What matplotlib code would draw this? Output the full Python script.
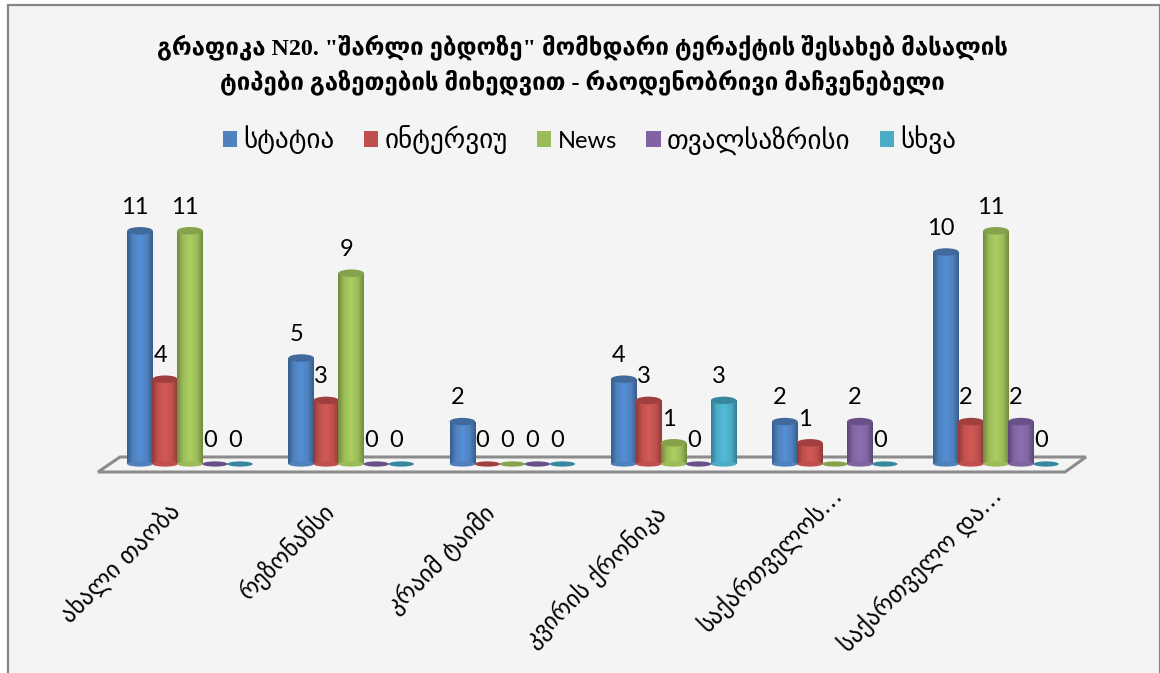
import numpy as np
import matplotlib
matplotlib.use('Agg')
import matplotlib.pyplot as plt
from matplotlib.colors import LinearSegmentedColormap
from matplotlib.patches import Ellipse, Polygon, Rectangle

# Data
categories = ['ახალი თაობა', 'რეზონანსი', 'კრაიმ ტაიმი', 'კვირის ქრონიკა',
              'საქართველოს…', 'საქართველო და…']
series_names = ['სტატია', 'ინტერვიუ', 'News', 'თვალსაზრისი', 'სხვა']
statia = [11, 5, 2, 4, 2, 10]
interviu = [4, 3, 0, 3, 1, 2]
news = [11, 9, 0, 1, 0, 11]
tvalsazrisi = [0, 0, 0, 0, 2, 2]
skhva = [0, 0, 0, 3, 0, 0]
all_series = [statia, interviu, news, tvalsazrisi, skhva]

# the original chart shows no label for News in the 5th group
hidden_labels = [(2, 4)]

title_lines = 'გრაფიკა N20. "შარლი ებდოზე" მომხდარი ტერაქტის შესახებ მასალის\nტიპები გაზეთების მიხედვით - რაოდენობრივი მაჩვენებელი'

# Colours: base, dark edge, bright centre, top cap
colors = ['#4f81bd', '#c0504d', '#9bbb59', '#8064a2', '#4bacc6']
darks = ['#375d8c', '#8c3b39', '#71893f', '#5b4776', '#337f94']
lights = ['#5490d6', '#d25a57', '#abcf60', '#8c6fb2', '#52bcd9']
caps = ['#41699c', '#a03f3d', '#86a24a', '#6a5088', '#37889e']

W, H = 1160, 673
x0_px, y0_px = 190, 464    # where group 0 / value 0 land
group_px, unit_px = 161.2, 21.2
bar_w = 25.5 / group_px
cap_h = 7.5 / unit_px

fig = plt.figure(figsize=(W / 100, H / 100), dpi=100, facecolor='white')
ax = fig.add_axes([0, 0, 1, 1])
ax.set_facecolor('white')

# px -> data helpers, the axes fills the whole figure
def px_x(p):
    return (p - x0_px) / group_px

def px_y(p):
    return (y0_px - p) / unit_px

# chart area with the grey frame on top / sides
ax.add_patch(Rectangle((px_x(8), px_y(H + 5)), (W - 8) / group_px, (H + 5 - 4.5) / unit_px,
                       fc='#f4f4f4', ec='#868686', lw=1.6, zorder=0))

# floor of the 3D chart
floor = [(98, 472), (120, 457), (1086, 457), (1065, 472)]
ax.add_patch(Polygon([(px_x(a), px_y(b)) for a, b in floor], closed=True,
                     fc='#f4f4f4', ec='#8c8c8c', lw=2.2, zorder=1))

x = np.arange(len(categories))
grad = np.linspace(0, 1, 64).reshape(1, -1)

for k, vals in enumerate(all_series):
    pos = x + (k - 2) * 25 / group_px
    cmap = LinearSegmentedColormap.from_list(
        'c%d' % k, [(0, darks[k]), (0.22, colors[k]), (0.5, lights[k]),
                    (0.78, colors[k]), (1, darks[k])])
    bars = ax.bar(pos, vals, width=bar_w, color=colors[k], linewidth=0, zorder=2 + k)
    for i, (b, v) in enumerate(zip(bars, vals)):
        cx = b.get_x() + b.get_width() / 2
        if v > 0:
            im = ax.imshow(grad, cmap=cmap, aspect='auto', zorder=2 + k, interpolation='bilinear',
                           extent=(b.get_x(), b.get_x() + b.get_width(), 0, v))
            im.set_clip_path(b)
            ax.add_patch(Ellipse((cx, 0), bar_w, cap_h * 0.7, fc=colors[k], ec='none', zorder=2 + k))
            ax.add_patch(Ellipse((cx, v), bar_w, cap_h, fc=caps[k], ec='none', zorder=2 + k))
        else:
            ax.add_patch(Ellipse((cx, 0), bar_w, cap_h * 0.7, fc=caps[k], ec='none', zorder=2 + k))
        if (k, i) in hidden_labels:
            continue
        ax.annotate(str(v), (cx, v), xytext=(-3.5, 17), textcoords='offset points',
                    ha='center', va='center', fontsize=17, family='Lato',
                    color='black', zorder=20)

# category labels, rotated 45 degrees
label_end_x = [176, 331, 491, 662, 839, 999]
label_end_y = [508, 507, 509, 510, 492, 492]
for name, ex, ey in zip(categories, label_end_x, label_end_y):
    ax.text(px_x(ex), px_y(ey), name, rotation=45, rotation_mode='anchor',
            ha='right', va='center', fontsize=17.3, family='DejaVu Sans',
            color='black', zorder=20)

ax.text(px_x(582), px_y(64.5), title_lines, ha='center', va='center', fontsize=17.3,
        fontweight='bold', family=['Liberation Serif', 'DejaVu Sans'],
        linespacing=1.46, color='black', zorder=20)

handles = [Rectangle((0, 0), 1, 1, fc=c, ec='none') for c in colors]
leg = ax.legend(handles, series_names, loc='center', bbox_to_anchor=(589.5 / W, 1 - 140 / H),
                bbox_transform=fig.transFigure, ncol=5, frameon=False,
                prop={'family': 'DejaVu Sans', 'size': 19.5},
                handlelength=0.52, handleheight=0.52, handletextpad=0.22, columnspacing=1.1)
for t in leg.get_texts():
    if t.get_text() == 'News':
        t.set_fontfamily('Lato')
        t.set_fontsize(17)

ax.set_xlim(px_x(0), px_x(W))
ax.set_ylim(px_y(H), px_y(0))
ax.axis('off')

plt.savefig('out.png', dpi=100, facecolor='white')
